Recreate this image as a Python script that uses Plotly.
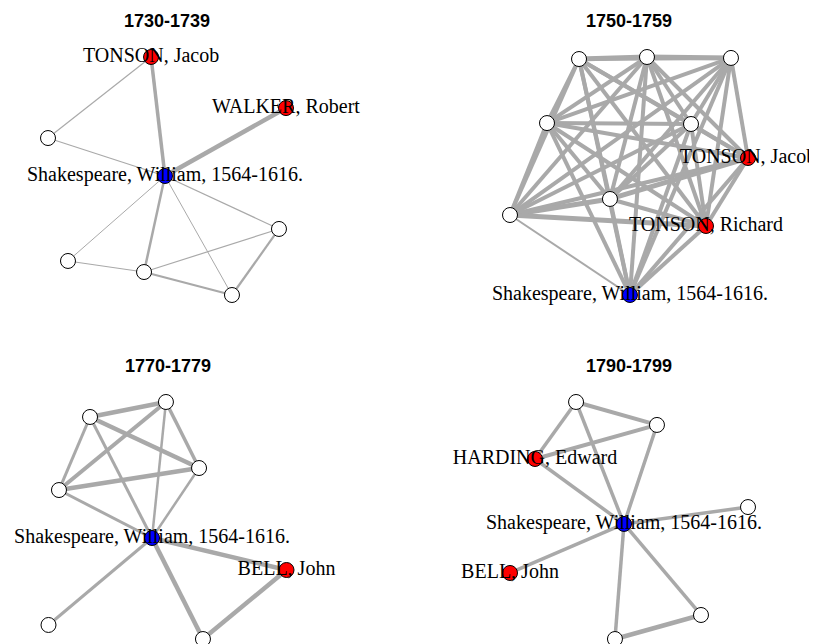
import plotly.graph_objects as go

PAGE_W, PAGE_H = 817, 644
BODY = 8  # default page margin around the plot div
W, H = PAGE_W - BODY, PAGE_H - BODY
SCALE = 119  # pixels per layout unit

periods = ["1730-1739", "1750-1759", "1770-1779", "1790-1799"]
SHAK = "Shakespeare, William, 1564-1616."

# 1730-1739 network (layout coords in [-1, 1])
labels_1730 = ["TONSON, Jacob", "WALKER, Robert", SHAK, "", "", "", "", ""]
x_1730 = [-0.134, 1.0, -0.017, -1.0, 0.941, -0.832, -0.193, 0.546]
y_1730 = [1.0, 0.571, 0.0, 0.319, -0.445, -0.714, -0.807, -1.0]
kind_1730 = ["pub", "pub", "auth", "", "", "", "", ""]
edges_1730 = [(0, 2, 3.5), (1, 2, 4.5), (0, 3, 1.2), (3, 2, 1.2), (2, 4, 1.2),
              (2, 5, 1.0), (2, 6, 2.5), (2, 7, 1.0), (5, 6, 1.2), (6, 4, 1.2),
              (6, 7, 2.2), (4, 7, 2.2)]

# 1750-1759 network
labels_1750 = ["", "", "", "", "", "TONSON, Jacob", "", "", "TONSON, Richard", SHAK]
x_1750 = [-0.420, 0.151, 0.857, -0.689, 0.521, 1.0, -0.160, -1.0, 0.647, 0.008]
y_1750 = [0.983, 1.0, 0.992, 0.445, 0.437, 0.151, -0.193, -0.328, -0.420, -1.0]
kind_1750 = ["", "", "", "", "", "pub", "", "", "pub", "auth"]
edges_1750 = []
for i in range(10):
    for j in range(i + 1, 10):
        w = 4.0
        if (i, j) == (7, 9):
            w = 2.0
        elif (i, j) in [(6, 7), (5, 6), (7, 8), (0, 1), (1, 2)]:
            w = 5.0
        edges_1750.append((i, j, w))

# 1770-1779 network
labels_1770 = ["", "", "", "", SHAK, "BELL, John", "", ""]
x_1770 = [-0.651, -0.013, 0.265, -0.912, -0.130, 1.0, -1.0, 0.298]
y_1770 = [0.870, 0.996, 0.441, 0.256, -0.147, -0.416, -0.878, -0.996]
kind_1770 = ["", "", "", "", "auth", "pub", "", ""]
edges_1770 = [(0, 1, 4.5), (0, 2, 4.5), (0, 3, 3.0), (0, 4, 3.0), (1, 3, 4.0),
              (1, 2, 3.5), (1, 4, 2.5), (2, 3, 4.5), (2, 4, 2.5), (3, 4, 3.0),
              (4, 5, 4.5), (4, 6, 3.0), (4, 7, 4.5), (5, 7, 4.5)]

# 1790-1799 network
labels_1790 = ["", "", "HARDING, Edward", SHAK, "", "BELL, John", "", ""]
x_1790 = [-0.445, 0.235, -0.790, -0.042, 1.0, -1.0, 0.605, -0.118]
y_1790 = [0.996, 0.803, 0.517, -0.029, 0.113, -0.441, -0.794, -0.996]
kind_1790 = ["", "", "pub", "auth", "", "pub", "", ""]
edges_1790 = [(0, 1, 4.0), (0, 2, 3.5), (0, 3, 3.5), (1, 2, 4.0), (1, 3, 3.5),
              (2, 3, 3.5), (3, 4, 3.5), (3, 5, 3.5), (3, 6, 3.5), (3, 7, 3.5),
              (6, 7, 4.5)]

networks = [
    (labels_1730, x_1730, y_1730, kind_1730, edges_1730),
    (labels_1750, x_1750, y_1750, kind_1750, edges_1750),
    (labels_1770, x_1770, y_1770, kind_1770, edges_1770),
    (labels_1790, x_1790, y_1790, kind_1790, edges_1790),
]

fill = {"pub": "#FF0000", "auth": "#0000FF", "": "#FFFFFF"}

# panel placement on the page (px from top-left) and layout centre
quarters = [(0, 0, 408.5, 322), (408.5, 0, 817, 322),
            (0, 322, 408.5, 644), (408.5, 322, 817, 644)]
centres = [(167, 176), (629, 176), (167.5, 520.5), (629, 520.5)]

fig = go.Figure()
layout = {}

for k, (labels, xs, ys, kind, edges) in enumerate(networks):
    xa = "x" if k == 0 else f"x{k + 1}"
    ya = "y" if k == 0 else f"y{k + 1}"

    # edges
    for a, b, w in edges:
        fig.add_trace(go.Scatter(
            x=[xs[a], xs[b]], y=[ys[a], ys[b]], mode="lines",
            line=dict(color="#A9A9A9", width=w),
            hoverinfo="skip", showlegend=False, xaxis=xa, yaxis=ya))

    # vertices + labels
    fig.add_trace(go.Scatter(
        x=xs, y=ys, mode="markers+text", text=labels,
        textposition="middle center",
        textfont=dict(family="Liberation Serif", size=20, color="black"),
        marker=dict(size=15, color=[fill[c] for c in kind],
                    line=dict(color="black", width=1)),
        cliponaxis=False, hoverinfo="text", showlegend=False,
        xaxis=xa, yaxis=ya))

    # convert page pixels to figure pixels
    x0, y0, x1, y1 = [max(v - BODY, 0) for v in quarters[k]]
    cx, cy = centres[k][0] - BODY, centres[k][1] - BODY
    key = "" if k == 0 else str(k + 1)
    layout["xaxis" + key] = dict(
        domain=[x0 / W, x1 / W],
        range=[(x0 - cx) / SCALE, (x1 - cx) / SCALE],
        visible=False, fixedrange=True)
    layout["yaxis" + key] = dict(
        domain=[(H - y1) / H, (H - y0) / H],
        range=[(cy - y1) / SCALE, (cy - y0) / SCALE],
        visible=False, fixedrange=True)

    fig.add_annotation(
        x=0, y=1.3, xref=xa, yref=ya, text=f"<b>{periods[k]}</b>",
        showarrow=False,
        font=dict(family="Liberation Sans", size=18, color="black"))

fig.update_layout(
    width=W, height=H,
    margin=dict(l=0, r=0, t=0, b=0),
    plot_bgcolor="white", paper_bgcolor="white",
    **layout)

fig.write_html("out.html")
